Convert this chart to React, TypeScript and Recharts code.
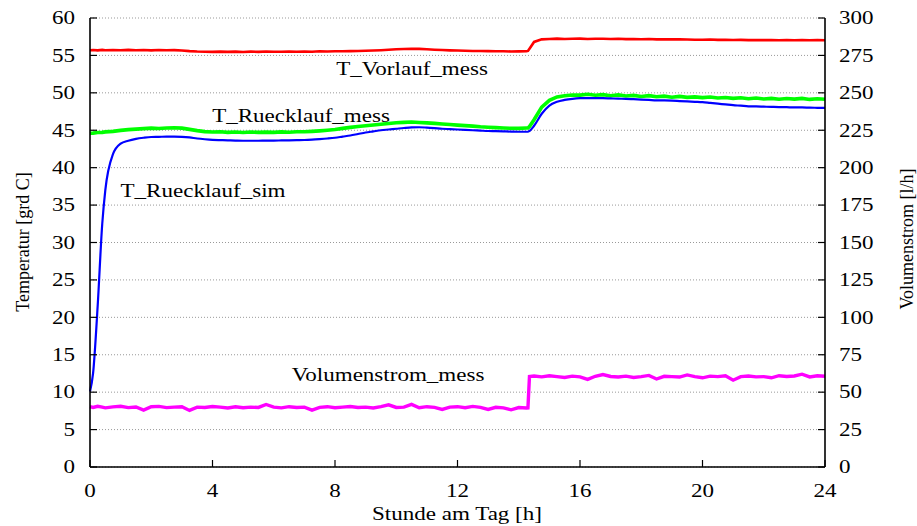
import React from 'react';
import { ComposedChart, Line, XAxis, YAxis, CartesianGrid } from 'recharts';

// Stunde am Tag [h]
const hours = [
  0, 0.1, 0.25, 0.4, 0.5, 0.75,
  1, 1.25, 1.5, 1.75,
  2, 2.25, 2.5, 2.75,
  3, 3.25, 3.5, 3.75,
  4, 4.25, 4.5, 4.75,
  5, 5.25, 5.5, 5.75,
  6, 6.25, 6.5, 6.75,
  7, 7.25, 7.5, 7.75,
  8, 8.25, 8.5, 8.75,
  9, 9.25, 9.5, 9.75,
  10, 10.25, 10.5, 10.75,
  11, 11.25, 11.5, 11.75,
  12, 12.25, 12.5, 12.75,
  13, 13.25, 13.5, 13.75,
  14, 14.25,
  14.3, 14.35,
  14.5, 14.75,
  15, 15.25, 15.5, 15.75,
  16, 16.25, 16.5, 16.75,
  17, 17.25, 17.5, 17.75,
  18, 18.25, 18.5, 18.75,
  19, 19.25, 19.5, 19.75,
  20, 20.25, 20.5, 20.75,
  21, 21.25, 21.5, 21.75,
  22, 22.25, 22.5, 22.75,
  23, 23.25, 23.5, 23.75,
  24,
];

// T_Vorlauf_mess [grd C]
const tVorlaufMess = [
  55.7, 55.72, 55.68, 55.74, 55.7, 55.72,
  55.7, 55.74, 55.69, 55.72,
  55.68, 55.72, 55.7, 55.71,
  55.66, 55.57, 55.52, 55.5,
  55.47, 55.51, 55.48, 55.5,
  55.46, 55.5, 55.48, 55.52,
  55.49, 55.5, 55.52, 55.5,
  55.53, 55.5, 55.55, 55.52,
  55.55, 55.56, 55.58, 55.6,
  55.62, 55.66, 55.7, 55.76,
  55.82, 55.86, 55.9, 55.87,
  55.82, 55.76, 55.72, 55.68,
  55.65, 55.62, 55.6, 55.6,
  55.57, 55.55, 55.56, 55.52,
  55.54, 55.55,
  55.6, 55.9,
  56.8, 57.15,
  57.2, 57.24, 57.2, 57.22,
  57.25, 57.2, 57.23, 57.22,
  57.2, 57.22, 57.18, 57.2,
  57.17, 57.2, 57.15, 57.16,
  57.14, 57.16, 57.12, 57.1,
  57.1, 57.12, 57.08, 57.1,
  57.06, 57.08, 57.05, 57.07,
  57.04, 57.06, 57.02, 57.05,
  57.03, 57.05, 57.02, 57.04,
  57.02,
];

// T_Ruecklauf_mess [grd C]
const tRuecklaufMess = [
  44.6, 44.62, 44.7, 44.72, 44.78, 44.85,
  44.98, 45.08, 45.15, 45.22,
  45.28, 45.24, 45.3, 45.33,
  45.28, 45.12, 44.95, 44.82,
  44.76, 44.8, 44.72, 44.76,
  44.7, 44.76, 44.72, 44.75,
  44.72, 44.78, 44.74, 44.8,
  44.8, 44.85, 44.92, 45.0,
  45.1, 45.25, 45.38, 45.5,
  45.6, 45.7, 45.8, 45.9,
  46.0, 46.05, 46.1, 46.04,
  45.98, 45.92, 45.84, 45.76,
  45.68, 45.62, 45.55, 45.46,
  45.4, 45.35, 45.3, 45.26,
  45.25, 45.3,
  45.3, 45.5,
  46.4, 48.1,
  49.0, 49.45, 49.62, 49.72,
  49.7, 49.8, 49.68, 49.76,
  49.62, 49.72, 49.58, 49.66,
  49.52, 49.62, 49.48, 49.56,
  49.42, 49.52, 49.4, 49.46,
  49.36, 49.44, 49.32, 49.38,
  49.26, 49.34, 49.22, 49.3,
  49.18, 49.26, 49.14, 49.24,
  49.16, 49.26, 49.12, 49.2,
  49.14,
];

// T_Ruecklauf_sim [grd C]
const tRuecklaufSim = [
  10.1, 12.5, 21.5, 32.5, 37.0, 41.8,
  43.2, 43.6, 43.85, 44.0,
  44.1, 44.12, 44.15, 44.15,
  44.12, 44.04, 43.9, 43.8,
  43.72, 43.68, 43.65, 43.62,
  43.6, 43.6, 43.6, 43.62,
  43.62, 43.64, 43.66, 43.68,
  43.7, 43.75, 43.82, 43.9,
  44.0, 44.15, 44.3, 44.5,
  44.7, 44.85, 45.0, 45.1,
  45.2, 45.3, 45.38, 45.4,
  45.35, 45.28, 45.2, 45.15,
  45.1, 45.05, 45.0, 44.95,
  44.9, 44.88, 44.85, 44.82,
  44.8, 44.8,
  44.8, 44.9,
  45.6, 47.2,
  48.3, 48.8, 49.05, 49.2,
  49.28, 49.3, 49.3, 49.28,
  49.25, 49.22, 49.2, 49.15,
  49.1, 49.05, 49.0, 48.98,
  48.95, 48.9, 48.85, 48.8,
  48.75, 48.65, 48.55, 48.45,
  48.35, 48.28, 48.2, 48.18,
  48.15, 48.12, 48.1, 48.08,
  48.05, 48.05, 48.02, 48.0,
  47.98,
];

// Volumenstrom_mess [l/h]
const volumenstromMess = [
  40.3, 39.8, 40.6, 40, 39.5, 40.2,
  40.6, 39.7, 40.1, 38,
  40.3, 40.5, 39.7, 40,
  40.2, 37.8, 40, 39.8,
  40.4, 40, 39.4, 40.2,
  39.6, 40, 39.8, 41.8,
  40, 39.5, 40.3, 39.8,
  40, 38, 39.8, 40.3,
  39.6, 40, 40.4, 39.8,
  40, 39.4, 40.3, 41.5,
  39.8, 40, 41.8, 39.6,
  40.3, 39.8, 38.5, 40,
  40.3, 39.6, 40.5, 39.8,
  38.5, 39.9, 39.5, 38.2,
  39.7, 39.4,
  39.5, 60.5,
  60.8, 60.2,
  61, 60.4, 59.8, 60.7,
  60.2, 58.5, 60.6, 61.8,
  60.5, 60.1, 60.7, 59.8,
  60.4, 61.2, 58.8, 60.6,
  60.4, 60.1, 61.5, 60.4,
  59.6, 60.7, 60.4, 61,
  58, 60.4, 60.8, 60.2,
  60.4, 59.6, 61, 60.5,
  60.8, 62, 60.2, 61,
  60.6,
];

const xTicks = [0, 4, 8, 12, 16, 20, 24];
const tempTicks = [0, 5, 10, 15, 20, 25, 30, 35, 40, 45, 50, 55, 60];
const flowTicks = [0, 25, 50, 75, 100, 125, 150, 175, 200, 225, 250, 275, 300];

const seriesLabels = {
  vor: 'T_Vorlauf_mess',
  rueckMess: 'T_Ruecklauf_mess',
  rueckSim: 'T_Ruecklauf_sim',
  vol: 'Volumenstrom_mess',
};

const table = hours.map((h, i) => ({
  h,
  vor: tVorlaufMess[i],
  rueckMess: tRuecklaufMess[i],
  rueckSim: tRuecklaufSim[i],
  vol: volumenstromMess[i],
}));

const FONT = '"Liberation Serif", "Times New Roman", Times, serif';
const SX = 1.28;
const TICK = 7;
const FS = 18;

const LeftTick = (p: any) => {
  const { x, y, payload } = p;
  return (
    <g>
      <line x1={x} y1={y} x2={x + TICK} y2={y} stroke="#000" strokeWidth={1.2} />
      <text transform={`translate(${x - 15},${y}) scale(${SX},1)`} textAnchor="end" dy="0.35em"
        fontSize={FS} fontFamily={FONT} fill="#000">{payload.value}</text>
    </g>
  );
};

const RightTick = (p: any) => {
  const { x, y, payload } = p;
  return (
    <g>
      <line x1={x} y1={y} x2={x - TICK} y2={y} stroke="#000" strokeWidth={1.2} />
      <text transform={`translate(${x + 14},${y}) scale(${SX},1)`} textAnchor="start" dy="0.35em"
        fontSize={FS} fontFamily={FONT} fill="#000">{payload.value}</text>
    </g>
  );
};

const BottomTick = (p: any) => {
  const { x, y, payload } = p;
  return (
    <g>
      <line x1={x} y1={y} x2={x} y2={y - TICK} stroke="#000" strokeWidth={1.2} />
      <text transform={`translate(${x},${y + 24}) scale(${SX},1)`} textAnchor="middle" dy="0.35em"
        fontSize={FS} fontFamily={FONT} fill="#000">{payload.value}</text>
    </g>
  );
};

const TopTick = (p: any) => {
  const { x, y } = p;
  return <line x1={x} y1={y} x2={x} y2={y + TICK} stroke="#000" strokeWidth={1.2} />;
};

const Lbl = ({ x, y, children }: any) => (
  <text transform={`translate(${x},${y}) scale(${SX},1)`} textAnchor="middle"
    fontSize={FS} fontFamily={FONT} fill="#000">{children}</text>
);

export default function App() {
  const axisLine = { stroke: '#000', strokeWidth: 1.6 };
  return (
    <div style={{ position: 'absolute', left: 0, top: 0, width: 917, height: 526, background: '#fff' }}>
      <ComposedChart width={917} height={526} data={table} margin={{ top: 18, right: 0, bottom: 0, left: 0 }}>
        <CartesianGrid yAxisId="left" vertical={false} stroke="#999" strokeDasharray="1 2" />
        <XAxis dataKey="h" type="number" domain={[0, 24]} ticks={xTicks} height={59}
          tickSize={0} tickMargin={0} tickLine={false} axisLine={axisLine} tick={(p: any) => <BottomTick {...p} />} />
        <XAxis xAxisId="top" orientation="top" dataKey="h" type="number" domain={[0, 24]} ticks={xTicks} height={0}
          tickSize={0} tickMargin={0} tickLine={false} axisLine={axisLine} tick={(p: any) => <TopTick {...p} />} />
        <YAxis yAxisId="left" domain={[0, 60]} ticks={tempTicks} width={90} type="number"
          tickSize={0} tickMargin={0} tickLine={false} axisLine={axisLine} tick={(p: any) => <LeftTick {...p} />} />
        <YAxis yAxisId="right" orientation="right" domain={[0, 300]} ticks={flowTicks} width={92} type="number"
          tickSize={0} tickMargin={0} tickLine={false} axisLine={axisLine} tick={(p: any) => <RightTick {...p} />} />
        <Line yAxisId="left" dataKey="vor" name={seriesLabels.vor} type="linear" stroke="#ff0000" strokeWidth={2.6}
          dot={false} isAnimationActive={false} />
        <Line yAxisId="left" dataKey="rueckMess" name={seriesLabels.rueckMess} type="linear" stroke="#00ff00" strokeWidth={3.6}
          dot={false} isAnimationActive={false} />
        <Line yAxisId="left" dataKey="rueckSim" name={seriesLabels.rueckSim} type="monotone" stroke="#0000ff" strokeWidth={2.2}
          dot={false} isAnimationActive={false} />
        <Line yAxisId="right" dataKey="vol" name={seriesLabels.vol} type="linear" stroke="#ff00ff" strokeWidth={3.4}
          dot={false} isAnimationActive={false} />
        <Lbl x={412} y={75}>{seriesLabels.vor}</Lbl>
        <Lbl x={301} y={122}>{seriesLabels.rueckMess}</Lbl>
        <Lbl x={203} y={197}>{seriesLabels.rueckSim}</Lbl>
        <Lbl x={388} y={381}>{seriesLabels.vol}</Lbl>
        <text transform="translate(457,520) scale(1.28,1)" textAnchor="middle" fontSize={FS} fontFamily={FONT} fill="#000">Stunde am Tag [h]</text>
        <text transform="translate(23,242) rotate(-90)" textAnchor="middle" dy="0.35em" fontSize={FS} fontFamily={FONT} fill="#000">Temperatur [grd C]</text>
        <text transform="translate(907,239) rotate(-90)" textAnchor="middle" dy="0.35em" fontSize={FS} fontFamily={FONT} fill="#000">Volumenstrom [l/h]</text>
      </ComposedChart>
    </div>
  );
}
